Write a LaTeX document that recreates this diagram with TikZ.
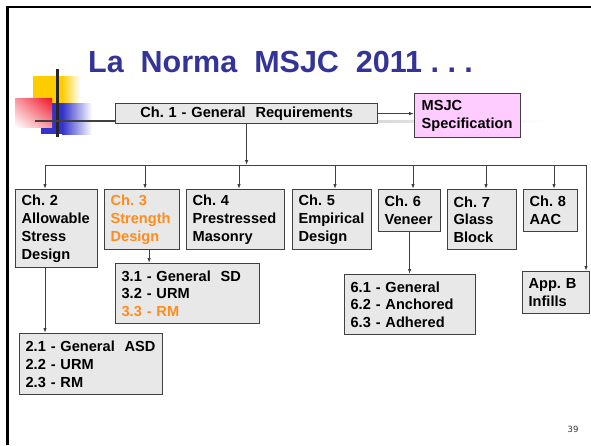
\documentclass[tikz,border=0pt]{standalone}
\usepackage{fontspec}
\setmainfont{Liberation Sans}
\newfontfamily\pagefont{DejaVu Sans}
\usetikzlibrary{arrows.meta,shadings}
\frenchspacing

\definecolor{boxgray}{RGB}{232,232,232}
\definecolor{edgegray}{RGB}{64,64,64}
\definecolor{titleblue}{RGB}{51,51,153}
\definecolor{chorange}{RGB}{255,140,30}
\definecolor{specpink}{RGB}{255,204,255}
\definecolor{logoyellow}{RGB}{255,204,0}
\definecolor{logored}{RGB}{240,20,40}
\definecolor{logoblue}{RGB}{51,51,204}

\tikzset{
  chbox/.style={draw=edgegray, line width=1.2pt, fill=boxgray, anchor=north west,
    align=left, inner xsep=6pt, inner ysep=2pt,
    font=\bfseries\fontsize{14.6}{17.8}\selectfont},
  conn/.style={draw=edgegray, line width=0.9pt, -{Latex[length=5pt,width=3.5pt]}},
}

\begin{document}
\begin{tikzpicture}[x=1pt,y=-1pt]
\useasboundingbox (0,0) rectangle (591,445);
% slide frame
\draw[line width=2.5pt] (7.5,445) -- (7.5,7) -- (591,7);
% logo
\fill[logoyellow] (33,76) rectangle (62,103);
\shade[left color=logoyellow, right color=white] (62,76) rectangle (80,103);
\fill[logoblue] (41,103) rectangle (62,134);
\shade[left color=logoblue, right color=white] (62,103) rectangle (92,134);
\shade[upper left=logored!45, upper right=logored, lower left=white, lower right=logored!45] (15,98) rectangle (52,127);
\draw[line width=3pt, black!85] (57,69) -- (57,137);
\draw[line width=2.5pt, black!75] (35,121) -- (115,121);
\shade[left color=black!15, right color=white] (377,120) rectangle (548,122.5);

\node[anchor=base west, inner sep=0pt, text=titleblue, font=\bfseries\fontsize{30.5}{36}\selectfont] (title) at (88,72) {La\ \ Norma\ \ MSJC\ \ 2011 . . .};

\node[chbox, text width=250pt, align=center, minimum height=20pt, inner ysep=0pt] (ch1) at (115,103) {Ch. 1 - General\ \ Requirements};
\node[chbox, fill=specpink, inner xsep=7pt, text width=92pt, minimum height=44pt] (msjc) at (414,93) {MSJC\\Specification};

\node[chbox, text width=70pt, minimum height=78pt] (ch2) at (15,189) {Ch. 2\\Allowable\\Stress\\Design};
\node[chbox, text width=63pt, minimum height=60pt, text=chorange] (ch3) at (104,189) {Ch. 3\\Strength\\Design};
\node[chbox, text width=86pt, minimum height=60pt] (ch4) at (186,189) {Ch. 4\\Prestressed\\Masonry};
\node[chbox, text width=67pt, minimum height=60pt] (ch5) at (292,189) {Ch. 5\\Empirical\\Design};
\node[chbox, text width=50pt, minimum height=42pt] (ch6) at (378,189) {Ch. 6\\Veneer};
\node[chbox, text width=57pt, minimum height=60pt] (ch7) at (447,189) {Ch. 7\\Glass\\Block};
\node[chbox, text width=42pt, minimum height=42pt] (ch8) at (523,189) {Ch. 8\\AAC};
\node[chbox, text width=55pt, minimum height=42pt] (appb) at (522,271) {App. B\\Infills};

\node[chbox, text width=132pt, minimum height=60pt] (sub3) at (115,263) {3.1 - General\ \ SD\\3.2 - URM\\\textcolor{chorange}{3.3 - RM}};
\node[chbox, text width=119pt, minimum height=60pt] (sub6) at (344,274) {6.1 - General\\6.2 - Anchored\\6.3 - Adhered};
\node[chbox, text width=131pt, minimum height=61pt] (sub2) at (19,333) {2.1 - General\ \ ASD\\2.2 - URM\\2.3 - RM};

\node[font=\pagefont\fontsize{8.5}{10}\selectfont, text=black!80] (pg) at (573,429) {39};

% bus
\coordinate (b2) at (45,165);
\coordinate (b3) at (145,165);
\coordinate (b4) at (239,165);
\coordinate (b5) at (335,165);
\coordinate (b6) at (413,165);
\coordinate (b7) at (486,165);
\coordinate (b8) at (554,165);
\coordinate (bR) at (586,165);

\draw[conn] (ch1.east) -- (ch1.east -| msjc.west);
\draw[conn] (ch1.south) -- (ch1.south |- b2);
\draw[conn, {Latex[length=5pt,width=3.5pt]}-{Latex[length=5pt,width=3.5pt]}] (b2 |- ch2.north) -- (b2) -- (bR) -- (bR |- appb.north);
\draw[conn] (b3) -- (b3 |- ch3.north);
\draw[conn] (b4) -- (b4 |- ch4.north);
\draw[conn] (b5) -- (b5 |- ch5.north);
\draw[conn] (b6) -- (b6 |- ch6.north);
\draw[conn] (b7) -- (b7 |- ch7.north);
\draw[conn] (b8) -- (b8 |- ch8.north);

\draw[conn] (b2 |- ch2.south) -- (b2 |- sub2.north);
\draw[conn] ([xshift=7pt]ch3.south) -- ([xshift=7pt]ch3.south |- sub3.north);
\draw[conn] (ch6.south) -- (ch6.south |- sub6.north);

\end{tikzpicture}
\end{document}
